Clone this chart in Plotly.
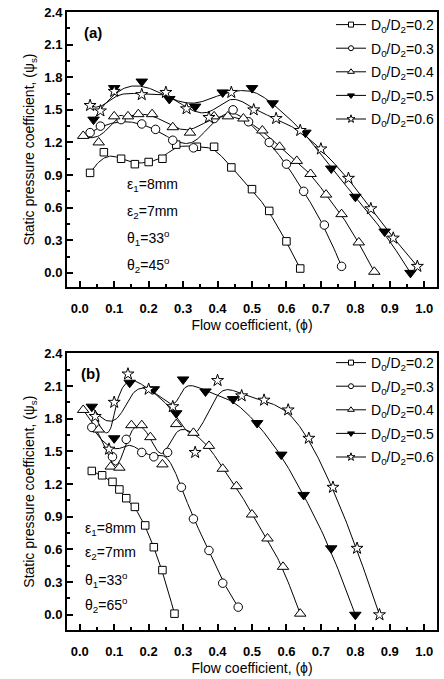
import numpy as np
import plotly.graph_objects as go

# ---------------- data ----------------
labels = ["0.2", "0.3", "0.4", "0.5", "0.6"]

# panel (a)
a02_x = [0.03, 0.07, 0.12, 0.16, 0.20, 0.24, 0.28, 0.34, 0.39, 0.44, 0.50, 0.55, 0.60, 0.64]
a02_y = [0.92, 1.11, 1.05, 1.00, 1.02, 1.05, 1.18, 1.16, 1.16, 0.97, 0.77, 0.57, 0.29, 0.04]
a03_x = [0.03, 0.06, 0.12, 0.18, 0.22, 0.27, 0.33, 0.39, 0.445, 0.49, 0.55, 0.60, 0.65, 0.71, 0.76]
a03_y = [1.29, 1.35, 1.41, 1.37, 1.32, 1.22, 1.15, 1.42, 1.50, 1.39, 1.20, 1.00, 0.75, 0.44, 0.06]
a04_x = [0.01, 0.055, 0.10, 0.14, 0.17, 0.21, 0.27, 0.32, 0.39, 0.43, 0.475, 0.53, 0.58, 0.63, 0.67, 0.715, 0.76, 0.81, 0.855]
a04_y = [1.26, 1.20, 1.44, 1.44, 1.46, 1.46, 1.34, 1.29, 1.44, 1.44, 1.42, 1.31, 1.16, 1.03, 0.91, 0.72, 0.54, 0.28, 0.01]
a05_x = [0.04, 0.10, 0.18, 0.26, 0.335, 0.415, 0.50, 0.56, 0.655, 0.73, 0.80, 0.885, 0.96]
a05_y = [1.41, 1.70, 1.76, 1.60, 1.53, 1.66, 1.70, 1.56, 1.29, 0.96, 0.70, 0.38, 0.00]
a06_x = [0.03, 0.06, 0.10, 0.18, 0.25, 0.31, 0.375, 0.44, 0.505, 0.57, 0.64, 0.70, 0.78, 0.845, 0.91, 0.98]
a06_y = [1.54, 1.49, 1.67, 1.64, 1.66, 1.51, 1.43, 1.66, 1.50, 1.42, 1.31, 1.14, 0.87, 0.59, 0.32, 0.06]

# panel (b)
b02_x = [0.035, 0.065, 0.095, 0.115, 0.135, 0.16, 0.19, 0.215, 0.24, 0.275]
b02_y = [1.32, 1.28, 1.22, 1.15, 1.07, 0.99, 0.82, 0.62, 0.41, 0.01]
b03_x = [0.035, 0.095, 0.135, 0.18, 0.215, 0.255, 0.295, 0.33, 0.375, 0.415, 0.46]
b03_y = [1.72, 1.45, 1.61, 1.49, 1.45, 1.49, 1.17, 0.88, 0.59, 0.29, 0.07]
b04_x = [0.01, 0.055, 0.09, 0.115, 0.15, 0.18, 0.205, 0.24, 0.28, 0.33, 0.375, 0.415, 0.455, 0.50, 0.545, 0.59, 0.64]
b04_y = [1.88, 1.70, 1.36, 1.35, 1.74, 1.74, 1.63, 1.38, 1.75, 1.67, 1.55, 1.34, 1.18, 0.92, 0.70, 0.44, 0.01]
b05_x = [0.035, 0.10, 0.145, 0.215, 0.28, 0.30, 0.365, 0.445, 0.515, 0.585, 0.65, 0.73, 0.80]
b05_y = [1.91, 1.62, 2.13, 2.07, 1.85, 2.16, 2.05, 1.98, 1.76, 1.47, 1.10, 0.61, 0.00]
b06_x = [0.045, 0.085, 0.10, 0.14, 0.20, 0.27, 0.335, 0.40, 0.47, 0.535, 0.605, 0.665, 0.735, 0.805, 0.87]
b06_y = [1.82, 1.52, 1.95, 2.21, 2.07, 1.91, 1.49, 2.15, 2.01, 1.97, 1.88, 1.62, 1.17, 0.61, 0.00]

x_ticks = [0.0, 0.1, 0.2, 0.3, 0.4, 0.5, 0.6, 0.7, 0.8, 0.9, 1.0]
y_ticks = [0.0, 0.3, 0.6, 0.9, 1.2, 1.5, 1.8, 2.1, 2.4]

panel_a = [(a02_x, a02_y), (a03_x, a03_y), (a04_x, a04_y), (a05_x, a05_y), (a06_x, a06_y)]
panel_b = [(b02_x, b02_y), (b03_x, b03_y), (b04_x, b04_y), (b05_x, b05_y), (b06_x, b06_y)]
params_a = ["ε<sub>1</sub>=8mm", "ε<sub>2</sub>=7mm", "θ<sub>1</sub>=33<sup>o</sup>", "θ<sub>2</sub>=45<sup>o</sup>"]
params_b = ["ε<sub>1</sub>=8mm", "ε<sub>2</sub>=7mm", "θ<sub>1</sub>=33<sup>o</sup>", "θ<sub>2</sub>=65<sup>o</sup>"]


# ---------------- B-spline connection (data points used as control points) ----------------
def bspline(xs, ys, n=300, k=3):
    P = np.column_stack([xs, ys]).astype(float)
    m = len(P)
    k = min(k, m - 1)
    knots = np.concatenate([np.zeros(k), np.arange(m - k + 1), np.full(k, m - k)]).astype(float)
    out = []
    for t in np.linspace(0, m - k, n):
        s = int(np.searchsorted(knots, t, side="right") - 1)
        s = min(max(s, k), m - 1)
        d = [P[j + s - k].copy() for j in range(k + 1)]
        for r in range(1, k + 1):
            for j in range(k, r - 1, -1):
                den = knots[j + 1 + s - r] - knots[j + s - k]
                a = (t - knots[j + s - k]) / den if den else 0.0
                d[j] = (1 - a) * d[j - 1] + a * d[j]
        out.append(d[k])
    out = np.array(out)
    return out[:, 0], out[:, 1]


# ---------------- styling ----------------
FONT = "Liberation Sans, Arial, sans-serif"
W, H = 444, 679
ML, MR, MT, MB = 67, 7, 12, 49
symbols = ["square", "circle", "triangle-up", "triangle-down", "star"]
fills = ["white", "white", "white", "black", "white"]
sizes = [7.5, 8.5, 10, 10, 9]
leg_sizes = [5, 5, 6, 6, 6]


def xp(px):
    return (px - ML) / (W - ML - MR)


def yp(py):
    return (H - MB - py) / (H - MT - MB)


fig = go.Figure()
for panel, (xa, ya, leg) in zip([panel_a, panel_b], [("x", "y", "legend"), ("x2", "y2", "legend2")]):
    for i, (xs, ys) in enumerate(panel):
        cx, cy = bspline(xs, ys)
        fig.add_trace(go.Scatter(
            x=cx, y=cy, xaxis=xa, yaxis=ya, mode="lines", showlegend=False,
            line=dict(color="black", width=1), hoverinfo="skip"))
    for i, (xs, ys) in enumerate(panel):
        fig.add_trace(go.Scatter(
            x=xs, y=ys, xaxis=xa, yaxis=ya, mode="markers", showlegend=False,
            marker=dict(symbol=symbols[i], size=sizes[i], color=fills[i],
                        line=dict(color="black", width=1))))
    for i in range(len(panel)):
        fig.add_trace(go.Scatter(
            x=[None], y=[None], xaxis=xa, yaxis=ya, legend=leg,
            mode="lines+markers",
            name="D<sub>0</sub>/D<sub>2</sub>=" + labels[i],
            legendgroup=leg + str(i),
            line=dict(color="black", width=1),
            marker=dict(symbol=symbols[i], size=leg_sizes[i], color=fills[i],
                        line=dict(color="black", width=1))))

axis_common = dict(
    showline=True, linecolor="black", linewidth=2, mirror=True,
    ticks="inside", ticklen=6, tickwidth=1.5, tickcolor="black",
    showgrid=False, zeroline=False,
    tickfont=dict(family=FONT, size=13, color="black", weight="bold"),
    title_font=dict(family=FONT, size=14, color="black"),
)
xcommon = dict(axis_common, range=[-0.037, 1.037], tickvals=x_ticks,
               ticktext=[f"{v:.1f}" for v in x_ticks], ticklabelstandoff=8,
               minor=dict(ticks="inside", ticklen=3, dtick=0.05, tick0=0, tickcolor="black", tickwidth=1.5),
               title_text="Flow coefficient, (ϕ)", title_standoff=6)
ycommon = dict(axis_common, tickvals=y_ticks, ticktext=[f"{v:.1f}" for v in y_ticks],
               minor=dict(ticks="inside", ticklen=3, dtick=0.15, tick0=0, tickcolor="black", tickwidth=1.5),
               title_text="Static pressure coefficient, (ψ<sub>s</sub>)", title_standoff=6)

top_dom = [yp(287), 1.0]
bot_dom = [0.0, yp(353.3)]

fig.update_layout(
    width=W, height=H, margin=dict(l=ML, r=MR, t=MT, b=MB, autoexpand=False),
    paper_bgcolor="white", plot_bgcolor="white",
    font=dict(family=FONT, size=14, color="black"),
    xaxis=dict(xcommon, anchor="y", domain=[0, 1]),
    yaxis=dict(ycommon, anchor="x", domain=top_dom, range=[-0.13, 2.4]),
    xaxis2=dict(xcommon, anchor="y2", domain=[0, 1]),
    yaxis2=dict(ycommon, anchor="x2", domain=bot_dom, range=[-0.14, 2.4]),
    legend=dict(x=xp(331), y=yp(9), xanchor="left", yanchor="top",
                bgcolor="rgba(0,0,0,0)", font=dict(family=FONT, size=14),
                tracegroupgap=2.4, itemwidth=30),
    legend2=dict(x=xp(331), y=yp(347), xanchor="left", yanchor="top",
                 bgcolor="rgba(0,0,0,0)", font=dict(family=FONT, size=14),
                 tracegroupgap=2.4, itemwidth=30),
    showlegend=True,
)

ann = []
ann.append(dict(text="<b>(a)</b>", x=xp(93), y=yp(33), xref="paper", yref="paper",
                showarrow=False, font=dict(family=FONT, size=15), xanchor="center", yanchor="middle"))
ann.append(dict(text="<b>(b)</b>", x=xp(90), y=yp(373), xref="paper", yref="paper",
                showarrow=False, font=dict(family=FONT, size=15), xanchor="center", yanchor="middle"))
for t, py in zip(params_a, [185, 211.7, 238.3, 265]):
    ann.append(dict(text=t, x=xp(125), y=yp(py), xref="paper", yref="paper", showarrow=False,
                    font=dict(family=FONT, size=14), xanchor="left", yanchor="middle"))
for t, py in zip(params_b, [529.3, 553.3, 580, 605]):
    ann.append(dict(text=t, x=xp(82.7), y=yp(py), xref="paper", yref="paper", showarrow=False,
                    font=dict(family=FONT, size=14), xanchor="left", yanchor="middle"))
fig.update_layout(annotations=ann)

fig.write_html("out.html", config={"displayModeBar": False},
               post_script="document.body.style.margin='0px';")
